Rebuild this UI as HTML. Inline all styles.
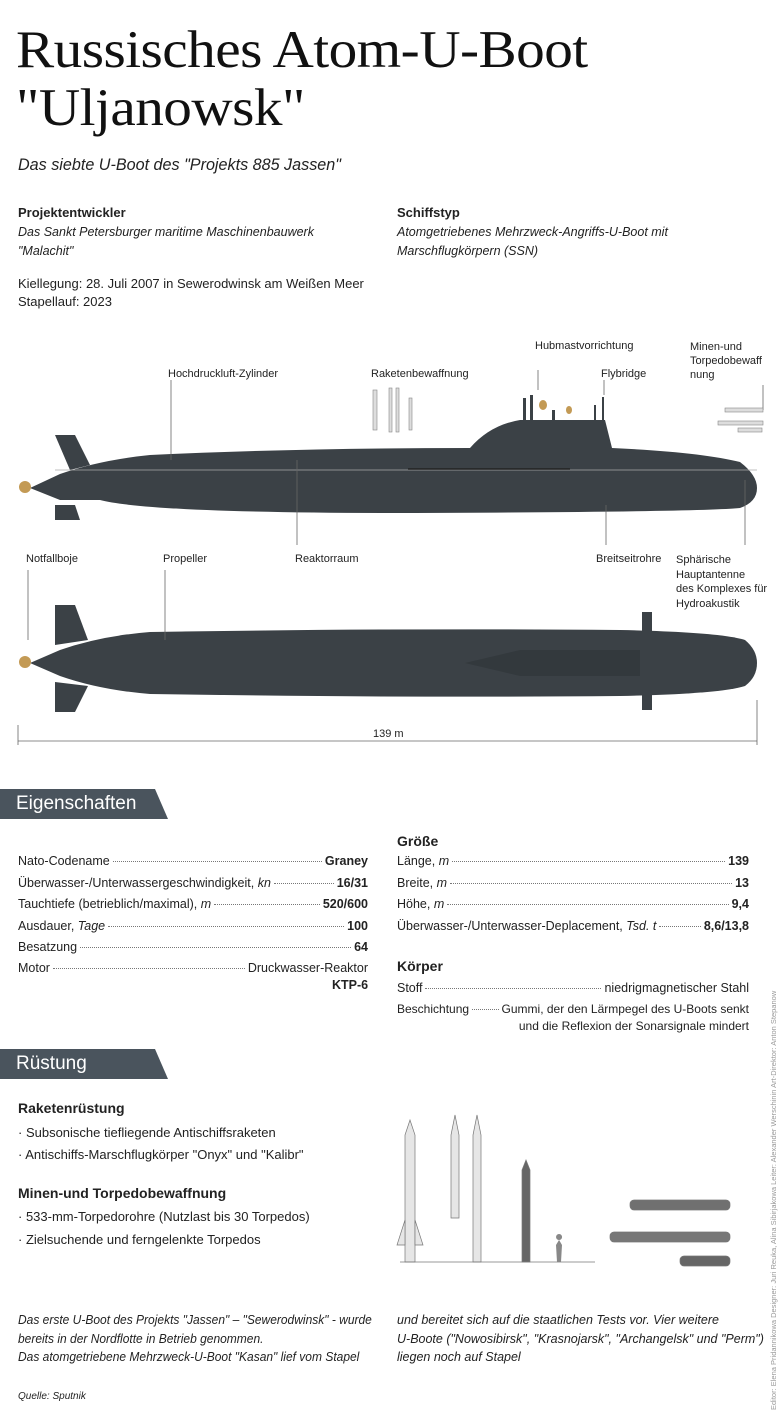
<!DOCTYPE html>
<html><head><meta charset="utf-8">
<style>
*{margin:0;padding:0;box-sizing:border-box}
body{width:780px;height:1424px;background:#fff;position:relative;overflow:hidden;font-family:"Liberation Sans Narrow","Liberation Sans",sans-serif;color:#222}
.a{position:absolute;white-space:nowrap}
h1{position:absolute;left:16px;font-family:"Liberation Serif",serif;font-weight:normal;font-size:53px;line-height:56px;letter-spacing:-0.5px;color:#111;transform:scaleX(1.08);transform-origin:left}
.b{font-weight:bold}
.i{font-style:italic}
.t{font-size:13px}
.lbl{font-size:11px}
.row{position:absolute;display:flex;font-size:12.5px;align-items:baseline}
.row .d{flex:1;border-bottom:1px dotted #777;margin:0 3px;height:1px;transform:translateY(-3px)}
.banner{position:absolute;left:0;height:30px;background:#4a545d;color:#fff;font-size:19px;padding-left:16px;line-height:30px;clip-path:polygon(0 0,155px 0,168px 30px,0 30px);width:168px}
</style></head><body>
<h1 style="top:22px">Russisches Atom-U-Boot</h1>
<h1 style="top:80px">"Uljanowsk"</h1>
<div class="a i" style="left:18px;top:155px;font-size:17px;transform:scaleX(0.95);transform-origin:left">Das siebte U-Boot des "Projekts 885 Jassen"</div>
<div class="a b t" style="left:18px;top:205px">Projektentwickler</div>
<div class="a i t" style="left:18px;top:225px;font-size:12.5px">Das Sankt Petersburger maritime Maschinenbauwerk</div>
<div class="a i t" style="left:18px;top:244px;font-size:12.5px">"Malachit"</div>
<div class="a b t" style="left:397px;top:205px">Schiffstyp</div>
<div class="a i t" style="left:397px;top:225px;font-size:12.5px">Atomgetriebenes Mehrzweck-Angriffs-U-Boot mit</div>
<div class="a i t" style="left:397px;top:244px;font-size:12.5px">Marschflugkörpern (SSN)</div>
<div class="a t" style="left:18px;top:276px">Kiellegung: 28. Juli 2007 in Sewerodwinsk am Weißen Meer</div>
<div class="a t" style="left:18px;top:294px">Stapellauf: 2023</div>

<div class="a lbl" style="left:168px;top:368px">Hochdruckluft-Zylinder</div>
<div class="a lbl" style="left:371px;top:368px">Raketenbewaffnung</div>
<div class="a lbl" style="left:535px;top:340px">Hubmastvorrichtung</div>
<div class="a lbl" style="left:601px;top:368px">Flybridge</div>
<div class="a lbl" style="left:690px;top:340px;line-height:14px">Minen-und<br>Torpedobewaff<br>nung</div>
<div class="a lbl" style="left:26px;top:553px">Notfallboje</div>
<div class="a lbl" style="left:163px;top:553px">Propeller</div>
<div class="a lbl" style="left:295px;top:553px">Reaktorraum</div>
<div class="a lbl" style="left:596px;top:553px">Breitseitrohre</div>
<div class="a lbl" style="left:676px;top:553px;line-height:14.5px">Sphärische<br>Hauptantenne<br>des Komplexes für<br>Hydroakustik</div>
<div class="a lbl" style="left:373px;top:728px">139 m</div>

<svg class="a" style="left:0;top:0" width="780" height="760">
<g fill="#3b4146">
<path d="M30 488 L60 474 Q100 460 150 455 Q300 448 470 448 Q490 425 520 420 L605 420 L612 448 Q700 452 740 462 Q757 475 757 488 Q757 502 740 508 Q700 512 400 513 Q150 513 100 500 L60 500 Z"/>
<path d="M55 435 L75 435 L90 465 L70 470 Z"/>
<path d="M55 505 L75 505 L80 520 L55 520 Z"/>
<rect x="523" y="398" width="3" height="22"/><rect x="530" y="395" width="3" height="25"/><rect x="552" y="410" width="3" height="10"/><rect x="594" y="405" width="2" height="15"/><rect x="602" y="397" width="2" height="23"/>
<path d="M30 663 L60 650 Q100 636 150 632 Q400 628 620 630 Q720 632 745 640 Q757 650 757 663 Q757 677 745 686 Q720 694 620 696 Q400 698 150 694 Q100 690 60 676 Z"/>
<path d="M55 605 L75 605 L88 640 L55 645 Z"/><path d="M55 682 L88 686 L75 712 L55 712 Z"/>
<rect x="642" y="612" width="10" height="30"/><rect x="642" y="682" width="10" height="28"/>
</g>
<line x1="55" y1="470" x2="757" y2="470" stroke="#aaa" stroke-width="0.7"/>
<line x1="408" y1="469" x2="570" y2="469" stroke="#222" stroke-width="1.5"/>
<path d="M465 663 L520 650 L640 650 L640 676 L520 676 Z" fill="#33393d"/>
<g fill="#c39a55"><circle cx="25" cy="487" r="6"/><circle cx="25" cy="662" r="6"/><ellipse cx="543" cy="405" rx="4" ry="5"/><ellipse cx="569" cy="410" rx="3" ry="4"/></g>
<g stroke="#666" stroke-width="0.8">
<line x1="171" y1="380" x2="171" y2="460"/><line x1="297" y1="460" x2="297" y2="545"/><line x1="538" y1="370" x2="538" y2="390"/><line x1="604" y1="380" x2="604" y2="395"/><line x1="763" y1="385" x2="763" y2="410"/><line x1="606" y1="505" x2="606" y2="545"/><line x1="745" y1="480" x2="745" y2="545"/><line x1="28" y1="570" x2="28" y2="640"/><line x1="165" y1="570" x2="165" y2="640"/>
<line x1="18" y1="741" x2="757" y2="741"/><line x1="18" y1="725" x2="18" y2="745"/><line x1="757" y1="700" x2="757" y2="745"/>
</g>
<g fill="#ddd" stroke="#888" stroke-width="0.6">
<rect x="373" y="390" width="4" height="40"/><rect x="389" y="388" width="3" height="44"/><rect x="396" y="388" width="3" height="44"/><rect x="409" y="398" width="3" height="32"/>
<rect x="725" y="408" width="38" height="4"/><rect x="718" y="421" width="45" height="4"/><rect x="738" y="428" width="24" height="4"/>
</g>
</svg>

<div class="banner" style="top:789px">Eigenschaften</div>
<div class="row" style="left:18px;top:854px;width:350px"><span>Nato-Codename</span><span class="d"></span><b>Graney</b></div>
<div class="row" style="left:18px;top:876px;width:350px"><span>Überwasser-/Unterwassergeschwindigkeit, <i>kn</i></span><span class="d"></span><b>16/31</b></div>
<div class="row" style="left:18px;top:897px;width:350px"><span>Tauchtiefe (betrieblich/maximal), <i>m</i></span><span class="d"></span><b>520/600</b></div>
<div class="row" style="left:18px;top:919px;width:350px"><span>Ausdauer, <i>Tage</i></span><span class="d"></span><b>100</b></div>
<div class="row" style="left:18px;top:940px;width:350px"><span>Besatzung</span><span class="d"></span><b>64</b></div>
<div class="row" style="left:18px;top:961px;width:350px"><span>Motor</span><span class="d"></span><span>Druckwasser-Reaktor</span></div>
<div class="a b" style="left:332px;top:978px;font-size:12.5px">KTP-6</div>
<div class="a b" style="left:397px;top:833px;font-size:14px">Größe</div>
<div class="row" style="left:397px;top:854px;width:352px"><span>Länge, <i>m</i></span><span class="d"></span><b>139</b></div>
<div class="row" style="left:397px;top:876px;width:352px"><span>Breite, <i>m</i></span><span class="d"></span><b>13</b></div>
<div class="row" style="left:397px;top:897px;width:352px"><span>Höhe, <i>m</i></span><span class="d"></span><b>9,4</b></div>
<div class="row" style="left:397px;top:919px;width:352px"><span>Überwasser-/Unterwasser-Deplacement, <i>Tsd. t</i></span><span class="d"></span><b>8,6/13,8</b></div>
<div class="a b" style="left:397px;top:958px;font-size:14px">Körper</div>
<div class="row" style="left:397px;top:981px;width:352px"><span>Stoff</span><span class="d"></span><span>niedrigmagnetischer Stahl</span></div>
<div class="row" style="left:397px;top:1002px;width:352px;font-size:12px"><span>Beschichtung</span><span class="d"></span><span>Gummi, der den Lärmpegel des U-Boots senkt</span></div>
<div class="a" style="left:397px;width:352px;text-align:right;top:1019px;font-size:12px">und die Reflexion der Sonarsignale mindert</div>

<div class="banner" style="top:1049px">Rüstung</div>
<div class="a b" style="left:18px;top:1100px;font-size:14px">Raketenrüstung</div>
<div class="a t" style="left:18px;top:1125px">· Subsonische tiefliegende Antischiffsraketen</div>
<div class="a t" style="left:18px;top:1147px">· Antischiffs-Marschflugkörper "Onyx" und "Kalibr"</div>
<div class="a b" style="left:18px;top:1185px;font-size:14px">Minen-und Torpedobewaffnung</div>
<div class="a t" style="left:18px;top:1209px">· 533-mm-Torpedorohre (Nutzlast bis 30 Torpedos)</div>
<div class="a t" style="left:18px;top:1232px">· Zielsuchende und ferngelenkte Torpedos</div>

<svg class="a" style="left:395px;top:1090px" width="370" height="190">
<g fill="#e6e6e6" stroke="#777" stroke-width="0.7">
<path d="M10 45 L15 30 L20 45 L20 172 L10 172 Z"/><path d="M10 130 L2 155 L10 155 Z"/><path d="M20 130 L28 155 L20 155 Z"/>
<path d="M56 45 L60 25 L64 45 L64 128 L56 128 Z"/>
<path d="M78 45 L82 25 L86 45 L86 172 L78 172 Z"/>
<path d="M127 80 L131 70 L135 80 L135 172 L127 172 Z" fill="#666"/>
<line x1="5" y1="172" x2="200" y2="172"/>
<rect x="235" y="110" width="100" height="10" rx="4" fill="#707070"/>
<rect x="215" y="142" width="120" height="10" rx="4" fill="#777"/>
<rect x="285" y="166" width="50" height="10" rx="4" fill="#666"/>
</g>
<path d="M164 150 a3 3 0 1 1 0.1 0 L167 155 L166 172 L162 172 L161 155 Z" fill="#888"/>
</svg>

<div class="a i t" style="left:18px;top:1311px;line-height:18.5px;font-size:12.5px;transform:scaleX(0.96);transform-origin:left">Das erste U-Boot des Projekts "Jassen" – "Sewerodwinsk" - wurde<br>bereits in der Nordflotte in Betrieb genommen.<br>Das atomgetriebene Mehrzweck-U-Boot "Kasan" lief vom Stapel</div>
<div class="a i t" style="left:397px;top:1311px;line-height:18.5px;font-size:12.5px">und bereitet sich auf die staatlichen Tests vor. Vier weitere<br>U-Boote ("Nowosibirsk", "Krasnojarsk", "Archangelsk" und "Perm")<br>liegen noch auf Stapel</div>
<div class="a i" style="left:18px;top:1391px;font-size:10px">Quelle: Sputnik</div>
<div class="a" style="left:769px;top:1410px;font-size:7.5px;color:#999;transform:rotate(-90deg);transform-origin:left top;font-family:'Liberation Sans',sans-serif">Editor: Elena Pridannikowa Designer: Juri Reuka, Alina Sibirjakowa Leiter: Alexander Werschinin Art-Direktor: Anton Stepanow</div>
</body></html>
